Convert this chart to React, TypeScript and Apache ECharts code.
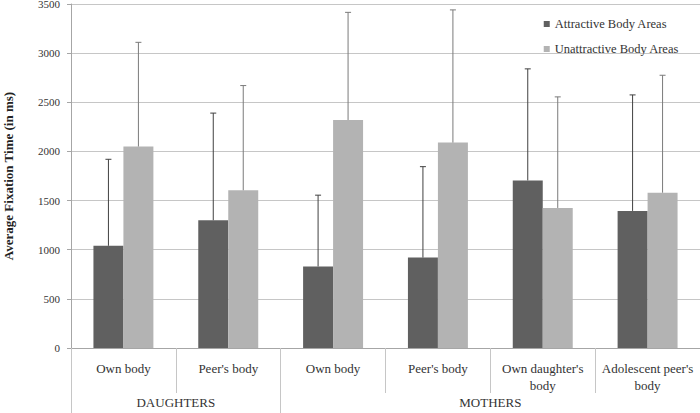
import React, { useEffect, useRef } from "react";
import * as echarts from "echarts";

const categories = ["Own body", "Peer's body", "Own body", "Peer's body", "Own daughter's\nbody", "Adolescent peer's\nbody"];
const groupLabels = ["DAUGHTERS", "MOTHERS"];
const groupSpans = [2, 4];
const attractive = [1040, 1300, 830, 920, 1705, 1395];
const attractiveErr = [880, 1090, 725, 925, 1135, 1180];
const unattractive = [2050, 1605, 2320, 2090, 1425, 1580];
const unattractiveErr = [1060, 1065, 1095, 1350, 1130, 1195];
const yTicks = [0, 500, 1000, 1500, 2000, 2500, 3000, 3500];
const seriesNames = ["Attractive Body Areas", "Unattractive Body Areas"];

const FONT = "'Liberation Serif', 'Times New Roman', serif";
const BAR_FRAC = 0.286;

function errorSeries(values: number[], errs: number[], sign: number, color: string) {
  return {
    type: "custom",
    silent: true,
    z: 5,
    data: values.map((v, i) => [i, v, errs[i]]),
    encode: { x: 0, y: 1 },
    renderItem: (params: any, api: any) => {
      const idx = api.value(0);
      const v = api.value(1);
      const e = api.value(2);
      const band = api.size([1, 0])[0];
      const base = api.coord([idx, v]);
      const top = api.coord([idx, v + e]);
      const x = base[0] + sign * band * BAR_FRAC / 2;
      const cap = 3;
      return {
        type: "group",
        children: [
          { type: "line", shape: { x1: x, y1: base[1], x2: x, y2: top[1] }, style: { stroke: color, lineWidth: 1 } },
          { type: "line", shape: { x1: x - cap, y1: top[1], x2: x + cap, y2: top[1] }, style: { stroke: color, lineWidth: 1 } },
        ],
      };
    },
  };
}

export default function App() {
  const ref = useRef<HTMLDivElement>(null);
  useEffect(() => {
    if (!ref.current) return;
    const chart = echarts.init(ref.current, null, { renderer: "svg" });
    const total = groupSpans.reduce((a, b) => a + b, 0);
    const bounds: number[] = [0];
    const centers: number[] = [];
    let acc = 0;
    groupSpans.forEach((s) => {
      centers.push(acc + s / 2);
      acc += s;
      bounds.push(acc);
    });
    chart.setOption({
      animation: false,
      backgroundColor: "#ffffff",
      textStyle: { fontFamily: FONT },
      grid: { left: 71, right: 0, top: 4, bottom: 65, containLabel: false, outerBoundsMode: "none" },
      legend: {
        data: seriesNames,
        orient: "vertical",
        right: 16,
        top: 12,
        itemWidth: 6,
        itemHeight: 6,
        itemGap: 11,
        icon: "rect",
        textStyle: { fontFamily: FONT, fontSize: 12.5, color: "#333", lineHeight: 14 },
      },
      xAxis: [
        {
          type: "category",
          data: categories,
          axisLine: { show: true, lineStyle: { color: "#a6a6a6" } },
          axisTick: { show: true, interval: 0, length: 45, lineStyle: { color: "#c6c6c6" } },
          axisLabel: { interval: 0, fontFamily: FONT, fontSize: 13, color: "#333", margin: 12, lineHeight: 17 },
          splitLine: { show: false },
        },
        {
          type: "value",
          min: 0,
          max: total,
          position: "bottom",
          axisLine: { show: false },
          splitLine: { show: false },
          axisTick: { show: true, customValues: bounds, length: 65, lineStyle: { color: "#c6c6c6" } },
          axisLabel: {
            show: true,
            customValues: centers,
            formatter: (v: number) => {
              const i = centers.findIndex((c) => Math.abs(c - v) < 1e-6);
              return i >= 0 ? groupLabels[i] : "";
            },
            fontFamily: FONT,
            fontSize: 13,
            color: "#333",
            margin: 48,
          },
        },
      ],
      yAxis: {
        type: "value",
        min: 0,
        max: 3500,
        interval: 500,
        name: "Average Fixation Time (in ms)",
        nameLocation: "middle",
        nameGap: 56,
        nameTextStyle: { fontFamily: FONT, fontSize: 13, fontWeight: "bold", color: "#222" },
        axisLine: { show: true, lineStyle: { color: "#a6a6a6" } },
        axisTick: { show: true, length: 4, lineStyle: { color: "#a6a6a6" } },
        axisLabel: {
          fontFamily: FONT,
          fontSize: 11,
          color: "#333",
          margin: 11,
          customValues: yTicks,
          formatter: (v: number) => String(v),
        },
        splitLine: { show: true, lineStyle: { color: "#c6c6c6", width: 1 } },
      },
      series: [
        {
          name: seriesNames[0],
          type: "bar",
          data: attractive,
          barWidth: "28.6%",
          barGap: "0%",
          itemStyle: { color: "#606060" },
        },
        {
          name: seriesNames[1],
          type: "bar",
          data: unattractive,
          barWidth: "28.6%",
          barGap: "0%",
          itemStyle: { color: "#b3b3b3" },
        },
        errorSeries(attractive, attractiveErr, -1, "#404040"),
        errorSeries(unattractive, unattractiveErr, 1, "#7a7a7a"),
      ],
    });
    return () => chart.dispose();
  }, []);
  return <div ref={ref} style={{ width: 700, height: 413, position: "absolute", left: 0, top: 0 }} />;
}
